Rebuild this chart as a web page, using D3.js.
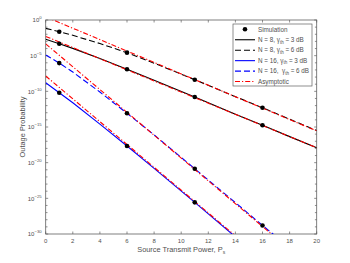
<!DOCTYPE html>
<html>
<head>
<meta charset="utf-8">
<script src="https://cdn.jsdelivr.net/npm/d3@7"></script>
<style>
body { margin: 0; background: #fff; }
text { font-family: "Liberation Sans", Arial, sans-serif; fill: #505050; }
</style>
</head>
<body>
<div id="wrapper"></div>
<script>
// x values (dB) for the exact curves, log10 of outage probability
const xCurve = [0, 1, 2, 4, 6, 8, 11, 14, 16, 18, 20];
const n8g3 = [-2.7, -3.32, -3.98, -5.4, -6.9, -8.45, -10.8, -13.2, -14.75, -16.35, -17.9];
const n8g6 = [-1.17, -1.64, -2.15, -3.3, -4.58, -6.05, -8.37, -10.75, -12.3, -13.9, -15.5];
const n16g3 = [-8.8, -10.2, -11.6, -14.6, -17.66, -20.8, -25.56, -30.4];
const n16g6 = [-4.9, -6.04, -7.3, -10.1, -13.08, -16.1, -20.85, -25.6, -28.8, -31.9];

// simulation markers
const xSim = [1, 6, 11, 16];
const simN8g3 = [-3.32, -6.9, -10.8, -14.75];
const simN8g6 = [-1.64, -4.58, -8.37, -12.3];
const simN16g3 = [-10.2, -17.66, -25.56];
const simN16g6 = [-6.04, -13.08, -20.85, -28.8];

// asymptotic lines
const xAsym = [0, 20];
const asymN8g6 = [0.45, -15.55];
const asymN8g3 = [-2.3, -17.9];
const asymN16g6 = [-3.35, -35.35];
const asymN16g3 = [-7.85, -39.85];

const xTicks = [0, 2, 4, 6, 8, 10, 12, 14, 16, 18, 20];
const yTicks = [0, -5, -10, -15, -20, -25, -30];

const width = 350, height = 263;
const margin = {top: 20, right: 33.3, bottom: 29, left: 45.7};
const w = width - margin.left - margin.right;
const h = height - margin.top - margin.bottom;

const svg = d3.select("#wrapper").append("svg")
    .attr("width", width)
    .attr("height", height);

svg.append("defs").append("clipPath").attr("id", "plotclip")
    .append("rect").attr("width", w).attr("height", h);

const bounds = svg.append("g")
    .attr("transform", `translate(${margin.left},${margin.top})`);

const x = d3.scaleLinear().domain([0, 20]).range([0, w]);
const y = d3.scaleLog().domain([1e-30, 1]).range([h, 0]);

const pts = (xs, vs) => vs.map((v, i) => [xs[i], Math.pow(10, v)]);
const line = d3.line().x(d => x(d[0])).y(d => y(d[1]));

// axes box
const axisColor = "#606060";
bounds.append("rect")
    .attr("width", w).attr("height", h)
    .attr("fill", "none").attr("stroke", axisColor).attr("stroke-width", 0.8);

// x ticks top & bottom (inward)
const tk = bounds.append("g").attr("stroke", axisColor).attr("stroke-width", 0.7);
xTicks.forEach(t => {
    tk.append("line").attr("x1", x(t)).attr("x2", x(t)).attr("y1", h).attr("y2", h - 2.5);
    tk.append("line").attr("x1", x(t)).attr("x2", x(t)).attr("y1", 0).attr("y2", 2.5);
});
// y ticks each decade, major at multiples of 5
for (let e = 0; e >= -30; e--) {
    const len = e % 5 === 0 ? 2.5 : 1.8;
    const yy = y(Math.pow(10, e));
    tk.append("line").attr("x1", 0).attr("x2", len).attr("y1", yy).attr("y2", yy);
    tk.append("line").attr("x1", w).attr("x2", w - len).attr("y1", yy).attr("y2", yy);
}

// tick labels
bounds.append("g").selectAll("text").data(xTicks).enter().append("text")
    .attr("x", d => x(d)).attr("y", h + 8.5)
    .attr("text-anchor", "middle")
    .style("font-size", "6px")
    .text(d => d);

const yl = bounds.append("g").selectAll("text").data(yTicks).enter().append("text")
    .attr("x", -4).attr("y", d => y(Math.pow(10, d)) + 2.2)
    .attr("text-anchor", "end")
    .style("font-size", "6px");
yl.append("tspan").text("10");
yl.append("tspan").attr("dy", -3).style("font-size", "4.3px").text(d => d === 0 ? "0" : "\u2212" + (-d));

// axis labels
const xlab = svg.append("text")
    .attr("x", margin.left + w / 2).attr("y", 252)
    .attr("text-anchor", "middle")
    .style("font-size", "7.4px");
xlab.append("tspan").text("Source Transmit Power, P");
xlab.append("tspan").attr("dy", 2).style("font-size", "5px").text("s");

svg.append("text")
    .attr("transform", `translate(25,${margin.top + h / 2}) rotate(-90)`)
    .attr("text-anchor", "middle")
    .style("font-size", "7.4px")
    .text("Outage Probability");

// curves
const plot = bounds.append("g").attr("clip-path", "url(#plotclip)");
const curves = [
    {xs: xCurve, vs: n8g3, color: "#000", dash: null},
    {xs: xCurve, vs: n8g6, color: "#000", dash: "6,3"},
    {xs: xCurve, vs: n16g3, color: "#0000ff", dash: null},
    {xs: xCurve, vs: n16g6, color: "#0000ff", dash: "6,3"},
    {xs: xAsym, vs: asymN8g6, color: "#ff0000", dash: "5,2,1.2,2"},
    {xs: xAsym, vs: asymN8g3, color: "#ff0000", dash: "5,2,1.2,2"},
    {xs: xAsym, vs: asymN16g6, color: "#ff0000", dash: "5,2,1.2,2"},
    {xs: xAsym, vs: asymN16g3, color: "#ff0000", dash: "5,2,1.2,2"}
];
plot.selectAll("path.curve").data(curves).enter().append("path")
    .attr("class", "curve")
    .attr("d", d => line(pts(d.xs, d.vs)))
    .attr("fill", "none")
    .attr("stroke", d => d.color)
    .attr("stroke-width", 1.1)
    .attr("stroke-dasharray", d => d.dash);

const sims = [simN8g3, simN8g6, simN16g3, simN16g6].flatMap(vs => pts(xSim, vs));
plot.selectAll("circle").data(sims).enter().append("circle")
    .attr("cx", d => x(d[0])).attr("cy", d => y(d[1]))
    .attr("r", 2.3).attr("fill", "#000");

// legend
const legend = svg.append("g");
legend.append("rect")
    .attr("x", 233).attr("y", 24).attr("width", 79).attr("height", 62)
    .attr("fill", "#fff").attr("stroke", axisColor).attr("stroke-width", 0.7);
const legItems = [
    {label: ["Simulation"], marker: true},
    {label: ["N = 8, \u03b3", "th", " = 3 dB"], color: "#000", dash: null},
    {label: ["N = 8, \u03b3", "th", " = 6 dB"], color: "#000", dash: "6,3"},
    {label: ["N = 16, \u03b3", "th", " = 3 dB"], color: "#0000ff", dash: null},
    {label: ["N = 16,  \u03b3", "th", " = 6 dB"], color: "#0000ff", dash: "6,3"},
    {label: ["Asymptotic"], color: "#ff0000", dash: "5,2,1.2,2"}
];
legItems.forEach((d, i) => {
    const ry = 29.3 + i * 10.45;
    if (d.marker) {
        legend.append("circle").attr("cx", 245).attr("cy", ry).attr("r", 2.3).attr("fill", "#000");
    } else {
        legend.append("line").attr("x1", 235).attr("x2", 255).attr("y1", ry).attr("y2", ry)
            .attr("stroke", d.color).attr("stroke-width", 1.1).attr("stroke-dasharray", d.dash);
    }
    const t = legend.append("text").attr("x", 258).attr("y", ry + 2.2)
        .style("font-size", "6.3px").attr("xml:space", "preserve");
    t.append("tspan").text(d.label[0]);
    if (d.label.length > 1) {
        t.append("tspan").attr("dy", 1.6).style("font-size", "4.5px").text(d.label[1]);
        t.append("tspan").attr("dy", -1.6).text(d.label[2]);
    }
});
</script>
</body>
</html>
